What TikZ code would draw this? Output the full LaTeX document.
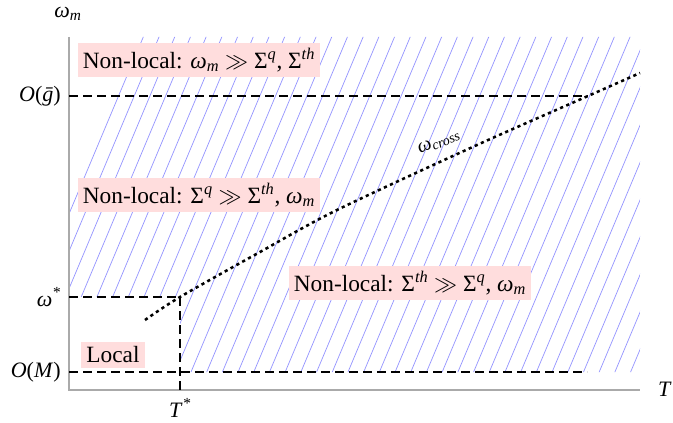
\documentclass[tikz,border=0pt]{standalone}
\usepackage{fontspec}
\setmainfont{Liberation Serif}
\newcommand{\wg}{\textit{ω}}
\newcommand{\sub}[1]{\textsubscript{\textit{#1}}}
\newcommand{\supr}[1]{\textsuperscript{\textit{#1}}}
\definecolor{boxpink}{RGB}{255,221,221}
\definecolor{hatchblue}{RGB}{150,150,255}
\definecolor{axisgray}{RGB}{170,170,170}
\begin{document}
\begin{tikzpicture}[x=0.75pt,y=-0.75pt,
  lbl/.style={font=\fontsize{16.5}{19}\selectfont, inner sep=0pt},
  regionbox/.style={fill=boxpink, font=\fontsize{17.5}{20}\selectfont, inner sep=3.8pt},
  axisline/.style={draw=axisgray, line width=0.8pt},
  guide/.style={dash pattern=on 6.5pt off 4pt, line width=1.1pt},
  crossline/.style={line width=1.9pt, dash pattern=on 2.4pt off 2.6pt},
  hatchline/.style={draw=hatchblue, line width=0.55pt}]
\useasboundingbox (0,0) rectangle (673,423);
% hatched region
\begin{scope}
  \clip (69,37) -- (640,37) -- (640,372) -- (180,372) -- (180,297) -- (69,297) -- cycle;
  \foreach \k in {-12,...,40} {
    \draw[hatchline] ({331.7+15.7*\k-0.42*400},{37+400}) -- ({331.7+15.7*\k+0.42*20},{37-20});
  }
\end{scope}
% axes
\coordinate (O) at (69,390);
\coordinate (ytop) at (69,37);
\coordinate (xend) at (640,390);
\draw[axisline] (ytop) -- (O) -- (xend);
% guide lines
\coordinate (gL) at (69,96);
\coordinate (gR) at (588,96);
\coordinate (wsL) at (69,297);
\coordinate (ws) at (180,297);
\coordinate (mL) at (69,372);
\coordinate (mR) at (587,372);
\coordinate (tb) at (180,392);
\draw[guide] (gL) -- (gR);
\draw[guide] (wsL) -- (ws);
\draw[guide] (mL) -- (mR);
\draw[guide] (ws) -- (tb);
% crossover curve
\draw[crossline] plot[smooth, tension=0.5] coordinates {(145,320) (180,297) (260,252) (337,210) (477,145) (588,96) (640,73)};
\node[font=\fontsize{15}{17}\selectfont, rotate=22, inner sep=0pt] (wc) at (439,142) {\wg\sub{cross}};
% region labels
\node[regionbox] (nl1) at (199,60) {Non-local: \wg\sub{m} $\gg$ Σ\supr{q}, Σ\supr{th}};
\node[regionbox] (nl2) at (199,195) {Non-local: Σ\supr{q} $\gg$ Σ\supr{th}, \wg\sub{m}};
\node[regionbox] (nl3) at (410,283) {Non-local: Σ\supr{th} $\gg$ Σ\supr{q}, \wg\sub{m}};
\node[regionbox] (loc) at (113,355) {Local};
% axis labels
\node[lbl] (wm) at (68,14) {\wg\sub{m}};
\node[lbl] (Tl) at (665,389) {\textit{T}};
\node[lbl, anchor=east] (og) at (61,96) {\textit{O}(\textit{\={g}})};
\node[lbl, anchor=east] (wst) at (61,297) {\wg\supr{*}};
\node[lbl, anchor=east] (om) at (61,372) {\textit{O}(\textit{M})};
\node[lbl] (ts) at (180,408) {\textit{T}\supr{*}};
\end{tikzpicture}
\end{document}
